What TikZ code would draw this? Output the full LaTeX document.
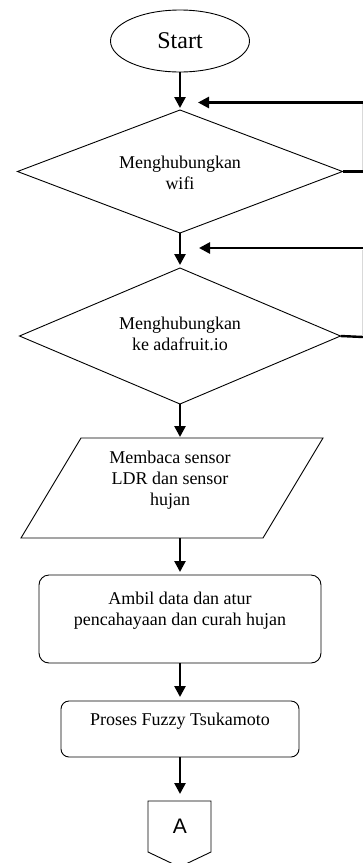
\documentclass[tikz,border=0pt]{standalone}
\usepackage{fontspec}
\setmainfont{Liberation Serif}
\newfontfamily\sansA{Liberation Sans}
\usetikzlibrary{shapes.geometric,arrows.meta}
\begin{document}
\begin{tikzpicture}[x=1pt,y=-1pt,
  shp/.style={draw=black,line width=0.9pt,inner sep=0pt,outer sep=0pt},
  txt/.style={align=center,inner sep=0pt,font=\fontsize{18}{21}\selectfont},
  flow/.style={line width=2.6pt,-{Triangle[length=11pt 0 1,width=11pt 0 1]}},
  fb/.style={line width=2.4pt}]
\useasboundingbox (0,0) rectangle (363,863);
\fill[white] (0,0) rectangle (363,863);

% Start
\node[shp,ellipse,minimum width=139pt,minimum height=62pt,font=\fontsize{24}{28}\selectfont] (start) at (180,41) {Start};

% Decisions
\node[shp,diamond,minimum width=325pt,minimum height=123pt] (d1) at (180,171.5) {};
\node[txt] (t1) at (180,173) {Menghubungkan\\wifi};
\node[shp,diamond,minimum width=321pt,minimum height=136pt] (d2) at (180,336) {};
\node[txt] (t2) at (180,334) {Menghubungkan\\ke adafruit.io};

% Input/output
\draw[shp] (81,438) coordinate (pTL) -- (323,438) -- (263,538) -- (21,538) -- cycle;
\coordinate (pin) at (180,438);
\coordinate (pout) at (180,538);
\node[txt] (t3) at (170,480) {Membaca sensor\\LDR dan sensor\\hujan};

% Process boxes
\node[shp,rectangle,rounded corners=10pt,minimum width=282pt,minimum height=88pt] (r1) at (180,619) {};
\node[txt] (t4) at (180,611) {Ambil data dan atur\\pencahayaan dan curah hujan};
\node[shp,rectangle,rounded corners=8pt,minimum width=238pt,minimum height=56pt] (r2) at (180,729) {};
\node[txt] (t5) at (180,721) {Proses Fuzzy Tsukamoto};

% Off-page connector
\draw[shp] (148,801) -- (211,801) -- (211,852) -- (179.5,867) -- (148,852) -- cycle;
\coordinate (offtop) at (180,801);
\node[inner sep=0pt,font=\sansA\fontsize{21}{24}\selectfont] (A) at (180,826) {A};

% Feedback coordinates
\coordinate (e1) at (363,102.5);
\coordinate (e1a) at (198,102.5);
\coordinate (e1b) at (363,171.5);
\coordinate (e2) at (363,248);
\coordinate (e2a) at (199,248);
\coordinate (e2b) at (363,337);

% Main flow
\draw[flow,shorten >=2pt] (start.south) -- (d1.north);
\draw[flow,shorten >=3pt] (d1.south) -- (d2.north);
\draw[flow,shorten >=1pt] (d2.south) -- (pin);
\draw[flow,shorten >=3pt] (pout) -- (r1.north);
\draw[flow,shorten >=4pt] (r1.south) -- (r2.north);
\draw[flow,shorten >=7pt] (r2.south) -- (offtop);

% Feedback loops
\draw[flow] (e1) -- (e1a);
\draw[fb] (d1.east) -- (e1b);
\draw[line width=0.5pt,gray!30] (362.7,104) -- (362.7,170);
\draw[flow] (e2) -- (e2a);
\draw[fb] (d2.east) -- (e2b);
\draw[line width=0.5pt,gray!30] (362.7,249.5) -- (362.7,335.5);
\end{tikzpicture}
\end{document}
